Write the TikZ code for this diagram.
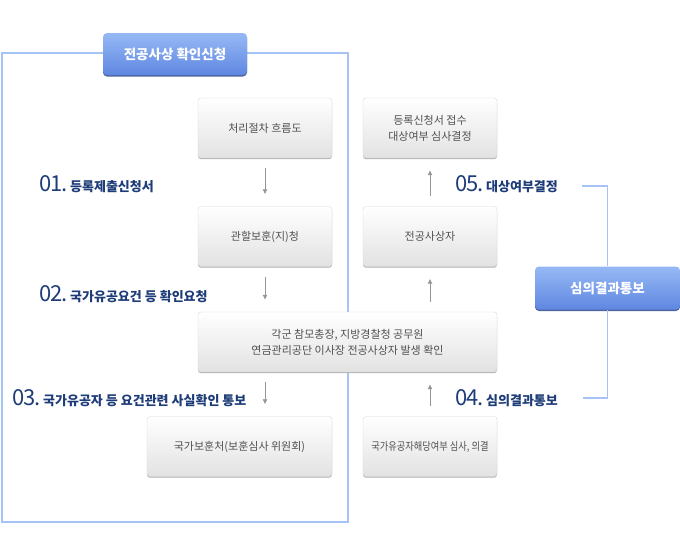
\documentclass[tikz,border=0pt]{standalone}
\usepackage{fontspec}
\setmainfont{Noto Sans CJK KR}
\newfontfamily\numfont[LetterSpace=-4]{Noto Sans CJK KR}
\newfontfamily\narrowfont[FakeStretch=0.84]{Noto Sans CJK KR}
\usetikzlibrary{shadows,arrows.meta}

\definecolor{framebl}{RGB}{165,195,245}
\definecolor{boxline}{RGB}{215,215,215}
\definecolor{boxbot}{RGB}{226,226,226}
\definecolor{boxtxt}{RGB}{80,80,80}
\definecolor{boxshd}{RGB}{175,175,175}
\definecolor{btntop}{RGB}{150,185,245}
\definecolor{btnbot}{RGB}{95,135,225}
\definecolor{btnshd}{RGB}{80,100,160}
\definecolor{navy}{RGB}{30,60,120}
\definecolor{arrgray}{RGB}{150,150,150}

\newcommand{\bignum}[1]{{\numfont\mdseries\fontsize{22}{22}\selectfont #1}}

\tikzset{
  box/.style={draw=boxline, rounded corners=3pt, top color=white, bottom color=boxbot,
    minimum width=134pt, minimum height=60pt, align=center, text=boxtxt,
    font=\fontsize{11}{16}\selectfont,
    drop shadow={shadow xshift=0pt, shadow yshift=-1.2pt, fill=boxshd, opacity=1}},
  btn/.style={rounded corners=4pt, top color=btntop, bottom color=btnbot,
    minimum width=145pt, minimum height=43pt, text=white,
    font=\fontsize{13.5}{13.5}\selectfont\bfseries,
    drop shadow={shadow xshift=0pt, shadow yshift=-1.5pt, fill=btnshd, opacity=1}},
  arr/.style={draw=arrgray, line width=0.8pt, -{Latex[length=5pt,width=5pt]}},
  link/.style={draw=framebl, line width=1.6pt},
  lbl/.style={anchor=base west, inner sep=0pt, text=navy,
    font=\fontsize{13}{13}\selectfont\bfseries}
}

\begin{document}
\begin{tikzpicture}[x=1pt,y=-1pt]
  \useasboundingbox (0,0) rectangle (680,550);

  % frame and title
  \draw[link] (2,53) rectangle (348,522);
  \node[btn, minimum width=144pt, minimum height=42pt] (title) at (175,54) {전공사상 확인신청};

  % process boxes
  \node[box] (flow) at (265,128) {처리절차 흐름도};
  \node[box] (office) at (265,236.5) {관할보훈(지)청};
  \node[box, minimum width=299pt] (chief) at (347.5,342) {각군 참모총장, 지방경찰청 공무원\\연금관리공단 이사장 전공사상자 발생 확인};
  \node[box, minimum width=185pt] (vet) at (239.5,446.5) {국가보훈처(보훈심사 위원회)};
  \node[box] (recv) at (430,128) {등록신청서 접수\\대상여부 심사결정};
  \node[box] (wound) at (430,236.5) {전공사상자};
  \node[box, font=\narrowfont\fontsize{11}{16}\selectfont, inner xsep=2pt] (review) at (430,446.5) {국가유공자해당여부 심사, 의결};
  \node[btn] (result) at (607.5,288) {심의결과통보};

  % arrows
  \draw[arr] ([yshift=-10pt]flow.south) -- ([yshift=12pt]office.north);
  \draw[arr] ([yshift=-10pt]office.south) -- ([yshift=12pt]office.south |- chief.north);
  \draw[arr] ([yshift=-10pt]chief.south -| flow.south) -- ([yshift=12pt]flow.south |- vet.north);
  \draw[arr] ([yshift=10pt]review.north) -- ([yshift=-12pt]review.north |- chief.south);
  \draw[arr] ([yshift=10pt]review.north |- chief.north) -- ([yshift=-12pt]wound.south);
  \draw[arr] ([yshift=10pt]wound.north) -- ([yshift=-12pt]recv.south);

  % step labels
  \node[lbl] (s1) at (39,191) {\bignum{01.}\,등록제출신청서};
  \node[lbl] (s2) at (39,301) {\bignum{02.}\,국가유공요건 등 확인요청};
  \node[lbl] (s3) at (12,405) {\bignum{03.}\,국가유공자 등 요건관련 사실확인 통보};
  \node[lbl] (s4) at (455,405) {\bignum{04.}\,심의결과통보};
  \node[lbl] (s5) at (455,191) {\bignum{05.}\,대상여부결정};

  % result links
  \coordinate (j5) at (582,186);
  \coordinate (j4) at (583,398);
  \draw[link] (j5) -| (result.north);
  \draw[link] (result.south) |- (j4);
\end{tikzpicture}
\end{document}
